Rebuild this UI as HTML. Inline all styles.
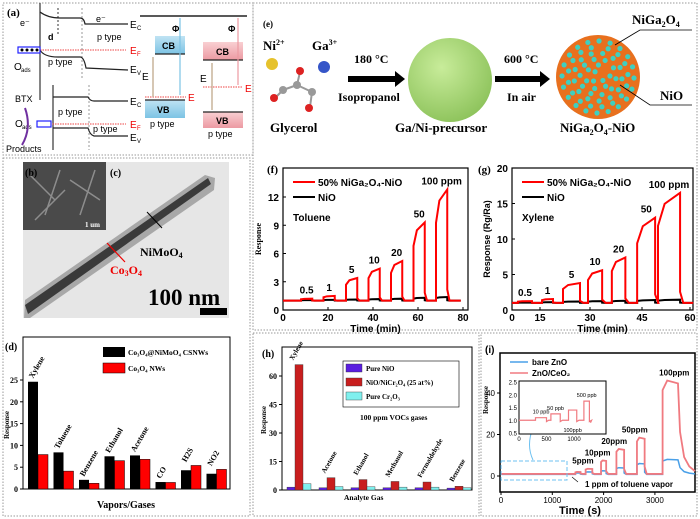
<!DOCTYPE html>
<html><head><meta charset="utf-8">
<style>
html,body{margin:0;padding:0;background:#fff;}
svg{display:block;font-family:"Liberation Sans",sans-serif;}
.serif{font-family:"Liberation Serif",serif;font-weight:bold;}
.b{font-weight:bold;}
</style></head>
<body>
<svg id="fig" width="700" height="519" viewBox="0 0 700 519" xmlns="http://www.w3.org/2000/svg">
<defs>
<radialGradient id="gball" cx="0.4" cy="0.35" r="0.7"><stop offset="0" stop-color="#c8ec9a"/><stop offset="1" stop-color="#8cc25a"/></radialGradient>
<linearGradient id="cbb" x1="0" y1="0" x2="0" y2="1"><stop offset="0" stop-color="#bfe3f3"/><stop offset="1" stop-color="#7cc3e4"/></linearGradient>
<linearGradient id="cbp" x1="0" y1="0" x2="0" y2="1"><stop offset="0" stop-color="#f9cfd2"/><stop offset="1" stop-color="#ec9aa2"/></linearGradient>
</defs>
<!-- panel frames -->
<g fill="none" stroke="#999" stroke-dasharray="1.5,1.5">
<rect x="3" y="3" width="250" height="152"/>
<rect x="3" y="158" width="247" height="358"/>
<rect x="253" y="3" width="444" height="327"/>
<rect x="253" y="333" width="226" height="183"/>
<rect x="481" y="333" width="216" height="183"/>
</g>

<!-- panel a -->
<g id="panel-a" font-size="9">
<text x="7" y="16" class="serif" font-size="11">(a)</text>
<line x1="40" y1="3" x2="40" y2="100" stroke="#333" stroke-width="1.2"/>
<line x1="58" y1="8" x2="58" y2="36" stroke="#333" stroke-dasharray="2,2"/>
<line x1="82" y1="8" x2="82" y2="80" stroke="#999" stroke-dasharray="2,2"/>
<path d="M40,12 Q48,18 60,18 L80,18 Q84,18 85,24 L128,24" fill="none" stroke="#222" stroke-width="1.2"/>
<path d="M40,50 Q44,57 58,57 L80,57 Q84,57 86,68 L128,70" fill="none" stroke="#222" stroke-width="1.2"/>
<line x1="25" y1="50" x2="126" y2="50" stroke="#e44" stroke-dasharray="1.5,1"/>
<rect x="18" y="47" width="22" height="6" fill="#fff" stroke="#22f" stroke-width="1.2"/>
<circle cx="22" cy="50" r="1.5"/><circle cx="27" cy="50" r="1.5"/><circle cx="32" cy="50" r="1.5"/><circle cx="37" cy="50" r="1.5"/>
<text x="130" y="28" font-size="10">E</text><text x="137" y="30" font-size="6">C</text>
<text x="130" y="54" font-size="10" fill="#e00">E</text><text x="137" y="56" font-size="6" fill="#e00">F</text>
<text x="130" y="73" font-size="10">E</text><text x="137" y="75" font-size="6">V</text>
<text x="97" y="40">p type</text><text x="48" y="65">p type</text>
<text x="48" y="40" class="b">d</text><text x="20" y="26">e⁻</text><text x="96" y="22">e⁻</text>
<text x="14" y="70" font-size="10">O</text><text x="21" y="72" font-size="6">ads</text>
<line x1="53" y1="85" x2="53" y2="150" stroke="#333" stroke-width="1.2"/>
<line x1="89" y1="85" x2="89" y2="150" stroke="#999" stroke-dasharray="2,2"/>
<path d="M53,97 L88,97 Q90,101 94,101 L128,101" fill="none" stroke="#222" stroke-width="1.2"/>
<path d="M53,128 L88,128 Q90,135 94,136 L128,136" fill="none" stroke="#222" stroke-width="1.2"/>
<line x1="45" y1="124" x2="126" y2="124" stroke="#e44" stroke-dasharray="1.5,1"/>
<rect x="37" y="121" width="14" height="6" fill="#fff" stroke="#22f" stroke-width="1.2"/>
<text x="130" y="105" font-size="10">E</text><text x="137" y="107" font-size="6">C</text>
<text x="130" y="128" font-size="10" fill="#e00">E</text><text x="137" y="130" font-size="6" fill="#e00">F</text>
<text x="130" y="141" font-size="10">E</text><text x="137" y="143" font-size="6">V</text>
<text x="58" y="115">p type</text><text x="93" y="132">p type</text>
<text x="15" y="102">BTX</text><text x="15" y="127" font-size="10">O</text><text x="22" y="129" font-size="6">ads</text>
<text x="6" y="152">Products</text>
<path d="M25,108 Q32,128 22,145" fill="none" stroke="#7030a0" stroke-width="2"/>
<line x1="140" y1="16" x2="247" y2="16" stroke="#222" stroke-width="1.5"/>
<rect x="155" y="36" width="30" height="18" fill="url(#cbb)"/><line x1="155" y1="54" x2="185" y2="54" stroke="#222" stroke-width="1.2"/>
<text x="162" y="49" class="b" font-size="9">CB</text>
<rect x="145" y="100" width="40" height="18" fill="url(#cbb)"/><line x1="145" y1="100" x2="185" y2="100" stroke="#222" stroke-width="1.2"/>
<text x="157" y="113" class="b" font-size="9">VB</text><text x="150" y="127">p type</text>
<line x1="145" y1="97" x2="186" y2="97" stroke="#e44" stroke-dasharray="1.5,1"/>
<text x="188" y="101" font-size="10" fill="#e00">E</text>
<line x1="180" y1="18" x2="180" y2="95" stroke="#7cc3e4" stroke-width="1.2"/>
<line x1="153" y1="57" x2="153" y2="97" stroke="#c8b49a" stroke-width="1.5"/>
<text x="142" y="80" font-size="10">E</text><text x="172" y="32" font-size="9" class="b">Φ</text>
<rect x="203" y="42" width="40" height="18" fill="url(#cbp)"/><line x1="203" y1="60" x2="243" y2="60" stroke="#222" stroke-width="1.2"/>
<text x="216" y="55" class="b">CB</text>
<line x1="203" y1="87" x2="243" y2="87" stroke="#e44" stroke-dasharray="1.5,1"/>
<text x="245" y="92" font-size="10" fill="#e00">E</text>
<rect x="203" y="112" width="40" height="16" fill="url(#cbp)"/><line x1="203" y1="112" x2="243" y2="112" stroke="#222" stroke-width="1.2"/>
<text x="216" y="124" class="b">VB</text><text x="208" y="137">p type</text>
<line x1="238" y1="18" x2="238" y2="85" stroke="#ec9aa2" stroke-width="1.2"/>
<line x1="212" y1="63" x2="212" y2="110" stroke="#c8b49a" stroke-width="1.5"/>
<text x="200" y="82" font-size="10">E</text><text x="228" y="32" font-size="9" class="b">Φ</text>
</g>

<!-- panel b/c -->
<g>
<rect x="23" y="162" width="206" height="156" fill="#e6e6e6"/>
<polygon points="25,300 205,175 215,178 214,190 30,318 24,318" fill="#a8a8a8"/>
<polygon points="25,305 208,178 211,184 28,314" fill="#3a3a3a"/>
<rect x="23" y="162" width="83" height="68" fill="#4a4a4a"/>
<g stroke="#aaa" stroke-width="1.5" opacity="0.7"><line x1="30" y1="175" x2="55" y2="200"/><line x1="60" y1="170" x2="45" y2="215"/><line x1="70" y1="180" x2="100" y2="200"/><line x1="80" y1="215" x2="95" y2="170"/><line x1="35" y1="220" x2="65" y2="190"/></g>
<text x="25" y="176" class="serif" font-size="10">(b)</text>
<text x="110" y="176" class="serif" font-size="10">(c)</text>
<text x="85" y="227" class="serif" font-size="7" fill="#fff">1 um</text>
<line x1="162" y1="228" x2="147" y2="212" stroke="#000"/>
<text x="140" y="256" class="serif" font-size="12">NiMoO<tspan font-size="8" dy="2">4</tspan></text>
<line x1="125" y1="262" x2="107" y2="243" stroke="#e00" stroke-width="1.2"/>
<text x="110" y="274" class="serif" font-size="12" fill="#e00">Co<tspan font-size="8" dy="2">3</tspan><tspan dy="-2">O</tspan><tspan font-size="8" dy="2">4</tspan></text>
<text x="148" y="305" class="serif" font-size="23">100 nm</text>
<rect x="200" y="308" width="27" height="7" fill="#000"/>
</g>

<!-- panel e -->
<g class="serif" font-size="11">
<text x="263" y="27" font-size="9">(e)</text>
<text x="263" y="50" font-size="13">Ni<tspan font-size="8" dy="-5">2+</tspan></text>
<text x="312" y="50" font-size="13">Ga<tspan font-size="8" dy="-5">3+</tspan></text>
<circle cx="272" cy="64" r="6" fill="#e6c22c"/><circle cx="324" cy="67" r="6" fill="#3555c8"/>
<g stroke="#999" stroke-width="2"><line x1="283" y1="90" x2="297" y2="85"/><line x1="297" y1="85" x2="312" y2="92"/><line x1="297" y1="85" x2="300" y2="72"/><line x1="312" y1="92" x2="310" y2="107"/><line x1="283" y1="90" x2="275" y2="98"/></g>
<circle cx="283" cy="90" r="4" fill="#999"/><circle cx="297" cy="85" r="4" fill="#999"/><circle cx="312" cy="92" r="4" fill="#999"/>
<circle cx="300" cy="71" r="4" fill="#d22"/><circle cx="274" cy="98" r="4" fill="#d22"/><circle cx="309" cy="108" r="4" fill="#d22"/>
<text x="270" y="132" font-size="13">Glycerol</text>
<text x="354" y="63" font-size="12">180 °C</text>
<polygon points="348,76 395,76 395,71 405,79 395,87 395,82 348,82" fill="#000"/>
<text x="338" y="101" font-size="12">Isopropanol</text>
<circle cx="450" cy="80" r="42" fill="url(#gball)"/>
<text x="395" y="132" font-size="13">Ga/Ni-precursor</text>
<text x="504" y="63" font-size="12">600 °C</text>
<polygon points="495,76 540,76 540,71 550,79 540,87 540,82 495,82" fill="#000"/>
<text x="507" y="101" font-size="12">In air</text>
<circle cx="598" cy="77" r="42" fill="#e8701e"/>
<g id="nanodots"></g>
<polyline points="615,45 640,30 692,30" fill="none" stroke="#000" stroke-width="0.8"/>
<polyline points="620,85 650,105 692,105" fill="none" stroke="#000" stroke-width="0.8"/>
<text x="632" y="24" font-size="13">NiGa<tspan font-size="8" dy="3">2</tspan><tspan dy="-3">O</tspan><tspan font-size="8" dy="3">4</tspan></text>
<text x="660" y="100" font-size="13">NiO</text>
<text x="560" y="132" font-size="13">NiGa<tspan font-size="8" dy="3">2</tspan><tspan dy="-3">O</tspan><tspan font-size="8" dy="3">4</tspan><tspan dy="-3">-NiO</tspan></text>
</g>

<g id="charts"></g>
</svg>
<script>
// ===== panel d data =====
const dCats=["Xylene","Toluene","Benzene","Ethanol","Acetone","CO","H2S","NO2"];
const dCore=[24.6,8.4,2.1,7.5,7.7,1.6,4.3,3.5];
const dNW=[7.9,4.1,1.3,6.5,6.8,1.5,5.4,4.5];
const dTicks=[0,5,10,15,20,25];
// ===== panel f data =====
const fLabels=["0.5","1","5","10","20","50","100 ppm"];
const fOn=[8,18,28,38,48,58,68];
const fOff=[13,23,33,43,53,63,73];
const fRed=[1.2,1.5,3.4,4.4,5.2,9.3,12.8];
const fBlack=[1.05,1.08,1.12,1.16,1.2,1.3,1.38];
const fYTicks=[0,3,6,9,12];
const fXTicks=[0,20,40,60,80];
// ===== panel g data =====
const gOn=[3.2,15.6,21.9,29.4,36.3,43.6,50];
const gOff=[10.7,18.9,27,33.5,40.2,49.1,56.9];
const gRed=[1.25,1.55,3.8,5.6,7.4,13,16.5];
const gBlack=[1.05,1.1,1.2,1.25,1.3,1.4,1.45];
const gYTicks=[0,5,10,15,20];
const gXTicks=[0,15,30,45,60];
// ===== panel h data =====
const hCats=["Xylene","Acetone","Ethanol","Methanol","Formaldehyde","Benzene"];
const hNiO=[1.5,1.2,1.2,1.2,1.2,1.0];
const hComp=[66,6.5,5.5,4.5,4.2,2.0];
const hCr=[3.3,1.8,1.7,1.5,1.5,1.2];
const hTicks=[0,15,30,45,60];
// ===== panel i data =====
const iLabels=["","5ppm","10ppm","20ppm","50ppm","100ppm"];
const iOn=[1450,1650,1950,2250,2650,3150];
const iOff=[1550,1780,2050,2400,2800,3450];
const iRed=[2,3.5,7.5,13,18.5,46];
const iBlue=[1.5,2,2.5,4,6,8];
const iYTicks=[0,20,40];
const iXTicks=[0,1000,2000,3000];
const insOn=[300,580,900,1180];
const insOff=[500,750,1050,1280];
const insVal=[1.1,1.25,1.4,1.75];
const insLabels=["10 ppb","50 ppb","100ppb","500 ppb"];
const insYTicks=[0.5,1.0,1.5,2.0,2.5];
const insXTicks=[0,500,1000];

const NS="http://www.w3.org/2000/svg";
const root=document.getElementById('charts');
function mk(tag,attrs,parent,txt){const e=document.createElementNS(NS,tag);for(const k in attrs)e.setAttribute(k,attrs[k]);if(txt!==undefined)e.textContent=txt;(parent||root).appendChild(e);return e;}
function lin(d0,d1,r0,r1){return v=>r0+(v-d0)/(d1-d0)*(r1-r0);}
function pw(dom,rng){return v=>{for(let i=0;i<dom.length-1;i++){if(v<=dom[i+1]||i==dom.length-2)return rng[i]+(v-dom[i])/(dom[i+1]-dom[i])*(rng[i+1]-rng[i]);}};}

// nanoparticle dots (decorative)
(function(){const g=document.getElementById('nanodots');for(let r=0;r<40;r+=6){const n=Math.max(1,Math.round(r*1.1));for(let k=0;k<n;k++){const a=k/n*6.283+r;const c=mk('circle',{cx:598+r*Math.cos(a),cy:77+r*Math.sin(a),r:2.6,fill:(k%2?'#3fcfc0':'#e8701e')},g);

}}})();

// ===== panel d =====
(function(){
const g=mk('g',{});


const X0=23,X1=230,Y0=489,YT=337;const y=lin(0,25,489,380);
mk('rect',{x:X0,y:YT,width:X1-X0,height:Y0-YT,fill:'none',stroke:'#000','stroke-width':1},g);
mk('text',{x:5,y:350,class:'serif','font-size':10},g,'(d)');
dTicks.forEach(t=>{mk('line',{x1:X0-3,x2:X0,y1:y(t),y2:y(t),stroke:'#000'},g);const tl=mk('text',{x:X0-5,y:y(t)+3,'text-anchor':'end','font-size':8,class:'serif'},g,t);});
const yt=mk('text',{transform:'translate(9,425) rotate(-90)','text-anchor':'middle','font-size':7,class:'serif'},g,'Response');

dCats.forEach((c,i)=>{const bx=28+i*25.5;
const b1=mk('rect',{x:bx,y:y(dCore[i]),width:10,height:Y0-y(dCore[i]),fill:'#000'},g);

const b2=mk('rect',{x:bx+10,y:y(dNW[i]),width:10,height:Y0-y(dNW[i]),fill:'#f00',stroke:'#000','stroke-width':0.5},g);

const top=Math.min(y(dCore[i]),y(dNW[i]));
const lab=mk('text',{transform:`translate(${bx+5},${top-3}) rotate(-60)`,'font-size':8,class:'serif'},g,c);
});
mk('rect',{x:103,y:347,width:22,height:10,fill:'#000'},g);
mk('text',{x:128,y:355,'font-size':7.5,class:'serif'},g,'Co₃O₄@NiMoO₄ CSNWs');
mk('rect',{x:103,y:363,width:22,height:10,fill:'#f00',stroke:'#000','stroke-width':0.5},g);
mk('text',{x:128,y:371,'font-size':7.5,class:'serif'},g,'Co₃O₄ NWs');
const xt=mk('text',{x:126,y:508,'text-anchor':'middle','font-size':10,class:'serif'},g,'Vapors/Gases');

})();

// step-response path generator
function stepPts(xs,ys,on,off,lv,base,tEnd){const p=[[xs(0),ys(base)]];on.forEach((s,i)=>{const L=lv[i];p.push([xs(s),ys(base)],[xs(s),ys(base+(L-base)*0.7)],[xs(s+(off[i]-s)*0.3),ys(base+(L-base)*0.9)],[xs(off[i]),ys(L)],[xs(off[i]),ys(base+(L-base)*0.1)],[xs(off[i]+1),ys(base)]);});p.push([xs(tEnd),ys(base)]);return p.map(q=>q.join(',')).join(' ');}

function respPanel(opt){
const g=mk('g',{});


const {X0,X1,YT,Y0,xs,ys}=opt;
mk('rect',{x:X0,y:YT,width:X1-X0,height:Y0-YT,fill:'none',stroke:'#000','stroke-width':1.2},g);
opt.yT.forEach(t=>{mk('line',{x1:X0,x2:X0+3,y1:ys(t),y2:ys(t),stroke:'#000'},g);const tl=mk('text',{x:X0-4,y:ys(t)+4,'text-anchor':'end','font-size':10,class:'b'},g,t);});
opt.xT.forEach(t=>{mk('line',{x1:xs(t),x2:xs(t),y1:Y0,y2:Y0-3,stroke:'#000'},g);const tl=mk('text',{x:xs(t),y:Y0+11,'text-anchor':'middle','font-size':10,class:'b'},g,t);});
const bl=mk('polyline',{points:stepPts(xs,ys,opt.on,opt.off,opt.black,1,opt.tEnd),fill:'none',stroke:'#000','stroke-width':2},g);

const rl=mk('polyline',{points:stepPts(xs,ys,opt.on,opt.off,opt.red,1,opt.tEnd),fill:'none',stroke:'#f00','stroke-width':2},g);

opt.on.forEach((s,i)=>{const t=mk('text',{x:xs((s+opt.off[i])/2),y:ys(opt.red[i])-5,'text-anchor':'middle','font-size':10,class:'b'},g,fLabels[i]);});
mk('line',{x1:X0+10,x2:X0+32,y1:YT+14,y2:YT+14,stroke:'#f00','stroke-width':2},g);
mk('text',{x:X0+35,y:YT+18,'font-size':10,class:'b'},g,'50% NiGa₂O₄-NiO');
mk('line',{x1:X0+10,x2:X0+32,y1:YT+29,y2:YT+29,stroke:'#000','stroke-width':2},g);
mk('text',{x:X0+35,y:YT+33,'font-size':10,class:'b'},g,'NiO');
mk('text',{x:X0+10,y:YT+53,'font-size':10,class:'b'},g,opt.gas);
mk('text',{x:opt.lx,y:YT+5,'font-size':11,class:'serif'},g,opt.letter);
const xt=mk('text',{x:(X0+X1)/2,y:Y0+22,'text-anchor':'middle','font-size':10,class:'b'},g,'Time (min)');
const yt=mk('text',{transform:`translate(${X0-22},${(YT+Y0)/2}) rotate(-90)`,'text-anchor':'middle','font-size':opt.yfs,class:opt.ycls},g,opt.ytitle);
}
respPanel({name:'panel-f-toluene-response',X0:283,X1:468,YT:168,Y0:310,xs:lin(0,80,283,463),ys:lin(0,12,310,197),yT:fYTicks,xT:fXTicks,on:fOn,off:fOff,red:fRed,black:fBlack,tEnd:79,gas:'Toluene',letter:'(f)',lx:267,ytitle:'Response',yfs:8,ycls:'serif'});
respPanel({name:'panel-g-xylene-response',X0:512,X1:693,YT:168,Y0:310,xs:pw(gXTicks,[512,540,590,642,690]),ys:lin(0,20,310,168),yT:gYTicks,xT:gXTicks,on:gOn,off:gOff,red:gRed,black:gBlack,tEnd:61,gas:'Xylene',letter:'(g)',lx:478,ytitle:'Response (Rg/Ra)',yfs:9,ycls:'b'});

// ===== panel h =====
(function(){
const g=mk('g',{});


const X0=282,X1=472,YT=347,Y0=490;const y=lin(0,60,490,376);
mk('rect',{x:X0,y:YT,width:X1-X0,height:Y0-YT,fill:'none',stroke:'#000'},g);
mk('text',{x:262,y:357,class:'serif','font-size':10},g,'(h)');
hTicks.forEach(t=>{mk('line',{x1:X0-3,x2:X0,y1:y(t),y2:y(t),stroke:'#000'},g);const tl=mk('text',{x:X0-5,y:y(t)+3,'text-anchor':'end','font-size':8,class:'serif'},g,t);});
const yt=mk('text',{transform:'translate(266,420) rotate(-90)','text-anchor':'middle','font-size':7,class:'serif'},g,'Response');
hCats.forEach((c,i)=>{const bx=287+i*32;
[[hNiO,'#5a1ee0','nio'],[hComp,'#c81e1e','composite'],[hCr,'#7ff0ee','cr2o3']].forEach((s,j)=>{const v=s[0][i];const r=mk('rect',{x:bx+j*8,y:y(v),width:8,height:Y0-y(v),fill:s[1],stroke:'#333','stroke-width':0.4},g);
});
const top=y(Math.max(hNiO[i],hComp[i],hCr[i]));
const lab=mk('text',{transform:`translate(${bx+6},${top-4}) rotate(-60)`,'font-size':7,class:'serif'},g,c);});
mk('rect',{x:343,y:361,width:116,height:46,fill:'#fff',stroke:'#000','stroke-width':0.6},g);
[['#5a1ee0','Pure NiO'],['#c81e1e','NiO/NiCr₂O₄ (25 at%)'],['#7ff0ee','Pure Cr₂O₃']].forEach((l,k)=>{mk('rect',{x:346,y:364+k*14,width:16,height:8,fill:l[0],stroke:'#333','stroke-width':0.4},g);mk('text',{x:366,y:371+k*14,'font-size':7,class:'serif'},g,l[1]);});
mk('text',{x:360,y:420,'font-size':7.5,class:'serif'},g,'100 ppm VOCs gases');
const xt=mk('text',{x:344,y:500,'font-size':7.5,class:'serif'},g,'Analyte Gas');
})();

// ===== panel i =====
(function(){
const g=mk('g',{});


const X0=500,X1=695,YT=353,Y0=492;const xs=lin(0,1000,501,552.3),ys=lin(0,20,476,434.5);
mk('rect',{x:X0,y:YT,width:X1-X0,height:Y0-YT,fill:'none',stroke:'#000','stroke-width':1.5},g);
mk('text',{x:485,y:353,class:'b','font-size':10},g,'(i)');
iYTicks.forEach(t=>{mk('line',{x1:X0-3,x2:X0,y1:ys(t),y2:ys(t),stroke:'#000'},g);const tl=mk('text',{x:X0-5,y:ys(t)+3,'text-anchor':'end','font-size':8},g,t);});
iXTicks.forEach(t=>{mk('line',{x1:xs(t),x2:xs(t),y1:Y0,y2:Y0+3,stroke:'#000'},g);const tl=mk('text',{x:xs(t),y:Y0+11,'text-anchor':'middle','font-size':8},g,t);});
const yt=mk('text',{transform:'translate(488,400) rotate(-90)','text-anchor':'middle','font-size':7,class:'serif'},g,'Response');
const xt=mk('text',{x:580,y:514,'text-anchor':'middle','font-size':11,class:'b'},g,'Time (s)');
function series(lv,base){let p=[[0,base]];iOn.forEach((s,i)=>{p.push([s,base],[s,lv[i]*0.9],[s+(iOff[i]-s)*0.3,lv[i]],[iOff[i],lv[i]*0.97],[iOff[i],base+ (lv[i]-base)*0.2],[iOff[i]+40,base]);});
const last=p.pop();p.pop();const L=lv[lv.length-1],e=iOff[iOff.length-1];p.push([e+40,base+(L-base)*0.45],[e+120,base+(L-base)*0.18],[e+220,base+(L-base)*0.08],[3780,base+(L-base)*0.03]);return p.map(q=>xs(q[0])+','+ys(q[1])).join(' ');}
const b=mk('polyline',{points:series(iBlue,0.8),fill:'none',stroke:'#4aa0e8','stroke-width':1.5},g);
const r=mk('polyline',{points:series(iRed,1),fill:'none',stroke:'#f07a80','stroke-width':1.8},g);
iOn.forEach((s,i)=>{if(!iLabels[i])return;const t=mk('text',{x:xs((s+iOff[i])/2)+(i==5?4:-6),y:ys(iRed[i])-5,'text-anchor':'middle','font-size':8,class:'b'},g,iLabels[i]);});
mk('text',{x:585,y:487,'font-size':8,class:'b'},g,'1 ppm of toluene vapor');
mk('line',{x1:578,y1:482,x2:572,y2:477,stroke:'#000','stroke-width':0.6},g);
mk('rect',{x:501,y:461,width:66,height:19,fill:'none',stroke:'#6cc0f0','stroke-dasharray':'4,2','stroke-width':1},g);
mk('path',{d:'M533,460 Q526,445 533,428',fill:'none',stroke:'#6cc0f0'},g);
mk('line',{x1:510,x2:528,y1:362,y2:362,stroke:'#4aa0e8','stroke-width':1.5},g);mk('text',{x:532,y:365,'font-size':8,class:'b'},g,'bare ZnO');
mk('line',{x1:510,x2:528,y1:373,y2:373,stroke:'#f07a80','stroke-width':1.5},g);mk('text',{x:532,y:376,'font-size':8,class:'b'},g,'ZnO/CeO₂');
// inset
const ix=lin(0,1000,519,574),iy=lin(0.5,2.5,433,382);
mk('rect',{x:519,y:381,width:87,height:53,fill:'#fff',stroke:'#000'},g);
insYTicks.forEach(t=>{const tl=mk('text',{x:517,y:iy(t)+2.5,'text-anchor':'end','font-size':6},g,t.toFixed(1));});
insXTicks.forEach(t=>{const tl=mk('text',{x:ix(t),y:441,'text-anchor':'middle','font-size':6},g,t);});
let p=[[0,1]];insOn.forEach((s,i)=>{p.push([s,1],[s,insVal[i]],[insOff[i],insVal[i]],[insOff[i],0.95],[insOff[i]+40,1]);});p.push([1300,0.9]);
const ins=mk('polyline',{points:p.map(q=>ix(q[0])+','+iy(q[1])).join(' '),fill:'none',stroke:'#f07a80','stroke-width':1.2},g);
insOn.forEach((s,i)=>{const below=i==2;const t=mk('text',{x:ix((s+insOff[i])/2),y:below?iy(insVal[i])+22:iy(insVal[i])-4,'text-anchor':'middle','font-size':5.5},g,insLabels[i]);});
})();
</script>
</body></html>
